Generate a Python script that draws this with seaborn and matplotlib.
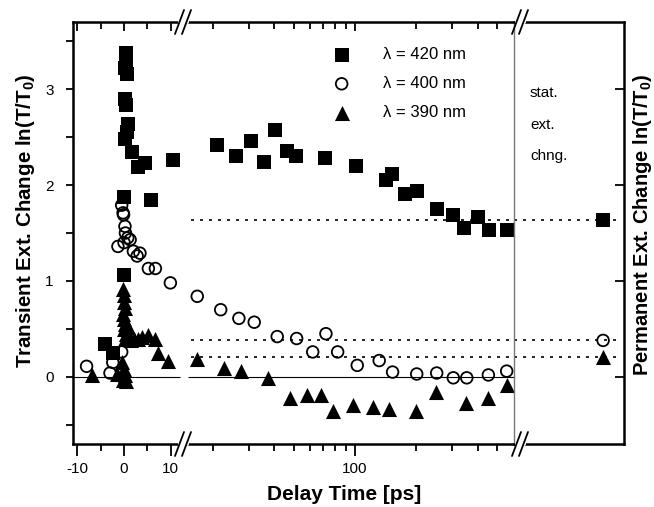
import numpy as np
import pandas as pd
import matplotlib
matplotlib.use("Agg")
import matplotlib.pyplot as plt
import seaborn as sns
from matplotlib.lines import Line2D
from matplotlib.ticker import FixedLocator, NullFormatter, FixedFormatter

# ---------------- data ----------------
# lambda = 420 nm (filled squares)
sq_early_t = [-4.1, -2.4, 0.0, 0.0, 0.4, 0.5, 0.3, 0.6, 0.2, 0.5, 0.8, 0.6, 0.2, 1.6, 3.0, 4.5, 5.8, 10.5]
sq_early_v = [0.34, 0.25, 1.06, 1.88, 3.38, 3.30, 3.22, 3.16, 2.90, 2.83, 2.64, 2.55, 2.48, 2.34, 2.19, 2.23, 1.84, 2.26]
sq_late_t = [20.9, 26, 30.8, 35.8, 40.7, 46.1, 51.1, 71, 101, 142, 152.5, 177, 202, 252, 304, 343, 403, 457, 556]
sq_late_v = [2.42, 2.30, 2.46, 2.24, 2.57, 2.36, 2.30, 2.28, 2.20, 2.05, 2.11, 1.91, 1.94, 1.75, 1.69, 1.55, 1.67, 1.53, 1.53]

# lambda = 400 nm (open circles)
ci_early_t = [-8.0, -3.0, -2.4, -0.5, -0.5, -0.2, -0.1, 0.2, 0.3, 0.8, -1.3, 0.0, 1.3, 2.0, 2.8, 3.4, 5.2, 6.7, 9.9]
ci_early_v = [0.11, 0.04, 0.15, 0.26, 1.79, 1.71, 1.69, 1.57, 1.50, 1.45, 1.36, 1.40, 1.43, 1.31, 1.26, 1.29, 1.13, 1.13, 0.98]
ci_late_t = [16.8, 21.9, 26.9, 32, 41.5, 51.7, 62, 72, 82.2, 102.6, 131.5, 153, 201, 252, 304, 354, 452, 556]
ci_late_v = [0.84, 0.70, 0.61, 0.57, 0.42, 0.40, 0.26, 0.45, 0.26, 0.12, 0.17, 0.05, 0.03, 0.04, -0.01, -0.01, 0.02, 0.06]

# lambda = 390 nm (filled triangles)
tr_early_t = [-6.9, -1.5, -0.5, -0.2, 0.0, 0.3, 0.4, -0.2, -0.1, 0.0, 0.2, -0.3, 0.1, 0.3, 0.0, 0.5, 0.2,
              0.8, 1.0, 1.5, 2.2, 3.0, 3.8, 5.2, 6.7, 7.3, 9.5]
tr_early_v = [0.02, 0.03, 0.15, -0.03, 0.08, 0.02, -0.04, 0.92, 0.85, 0.78, 0.72, 0.66, 0.60, 0.55, 0.50, 0.45, 0.40,
              0.52, 0.42, 0.38, 0.40, 0.40, 0.42, 0.44, 0.40, 0.25, 0.17]
tr_late_t = [16.7, 22.8, 27.5, 37.5, 48, 58, 68, 77.7, 97.4, 123, 147, 199, 249, 351, 452, 556]
tr_late_v = [0.19, 0.09, 0.06, -0.01, -0.22, -0.19, -0.19, -0.36, -0.29, -0.31, -0.34, -0.36, -0.16, -0.27, -0.22, -0.09]

# permanent (stationary) extinction change
perm_labels = ["λ = 420 nm", "λ = 400 nm", "λ = 390 nm"]
perm_v = [1.64, 0.38, 0.21]

lin_ticks = [-10, 0, 10]
lin_minor = [-5, 5]
log_ticks = [100]
log_minor = [20, 30, 40, 50, 60, 70, 80, 90, 200, 300, 400, 500]
y_ticks = [0, 1, 2, 3]
y_minor = [-0.5, 0.5, 1.5, 2.5, 3.5]

# ---------------- style ----------------
sns.set_theme(style="ticks")
plt.rcParams["font.family"] = ["Liberation Sans", "DejaVu Sans"]
plt.rcParams["axes.unicode_minus"] = False
plt.rcParams["mathtext.fontset"] = "custom"
plt.rcParams["mathtext.bf"] = "Liberation Sans:bold"
plt.rcParams["mathtext.rm"] = "Liberation Sans"
for k in ("text.color", "axes.labelcolor", "xtick.color", "ytick.color", "axes.edgecolor"):
    plt.rcParams[k] = "black"

W, H = 654, 507
fig = plt.figure(figsize=(W / 100, H / 100), dpi=100)


def fx(px):
    return px / W


def fy(py):
    return 1 - py / H


X0, XB1, XB2, X3 = 73, 183, 514, 624
YT, YB = 22, 444
ax1 = fig.add_axes([fx(X0), fy(YB), fx(XB1) - fx(X0), fy(YT) - fy(YB)])
ax2 = fig.add_axes([fx(XB1), fy(YB), fx(XB2) - fx(XB1), fy(YT) - fy(YB)])
ax3 = fig.add_axes([fx(XB2), fy(YB), fx(X3) - fx(XB2), fy(YT) - fy(YB)])

YLIM = (-0.70, 3.70)
LIN_LIM = (-10.9, 12.6)
LOG_LIM = (14.3, 604)
for a in (ax1, ax2, ax3):
    a.set_ylim(*YLIM)
    a.set_facecolor("none")
    for s in a.spines.values():
        s.set_linewidth(1.8)
        s.set_color("black")
ax1.set_xlim(*LIN_LIM)
ax2.set_xscale("log")
ax2.set_xlim(*LOG_LIM)
ax3.set_xlim(0, 1)

ax1.spines["right"].set_visible(False)
ax2.spines["left"].set_visible(False)
ax2.spines["right"].set_visible(False)
ax3.spines["left"].set_color("#777777")
ax3.spines["left"].set_linewidth(1.0)

# reference lines
zero_kw = dict(color="black", lw=0.8, zorder=1)
ax1.hlines(0, LIN_LIM[0], 12.0, **zero_kw)
ax2.hlines(0, 15.07, LOG_LIM[1], **zero_kw)
dot_kw = dict(color="black", lw=1.2, linestyle=(0, (1.8, 3.6)), zorder=1)
ax2.hlines(perm_v, 15.7, LOG_LIM[1], **dot_kw)
ax3.hlines(perm_v, 0, 0.98, **dot_kw)

# markers
SQ = dict(marker="s", s=90, color="black", edgecolor="black", linewidth=0, zorder=3, legend=False)
CI = dict(marker="o", s=70, facecolor="none", edgecolor="black", linewidth=1.3, zorder=4, legend=False)
TR = dict(marker="^", s=118, color="black", edgecolor="black", linewidth=0, zorder=3, legend=False)

sns.scatterplot(x=sq_early_t, y=sq_early_v, ax=ax1, **SQ)
sns.scatterplot(x=ci_early_t, y=ci_early_v, ax=ax1, **CI)
sns.scatterplot(x=tr_early_t, y=tr_early_v, ax=ax1, **TR)

sns.scatterplot(x=sq_late_t, y=sq_late_v, ax=ax2, **SQ)
h_sq = ax2.collections[-1]
sns.scatterplot(x=ci_late_t, y=ci_late_v, ax=ax2, **CI)
h_ci = ax2.collections[-1]
sns.scatterplot(x=tr_late_t, y=tr_late_v, ax=ax2, **TR)
h_tr = ax2.collections[-1]

perm_x = [0.81, 0.81, 0.81]
sns.scatterplot(x=perm_x[:1], y=perm_v[:1], ax=ax3, **SQ)
sns.scatterplot(x=perm_x[1:2], y=perm_v[1:2], ax=ax3, **CI)
sns.scatterplot(x=perm_x[2:], y=perm_v[2:], ax=ax3, **TR)
ax1.set_xlim(*LIN_LIM)
ax2.set_xlim(*LOG_LIM)
ax3.set_xlim(0, 1)
for a in (ax1, ax2, ax3):
    a.set_ylim(*YLIM)
    a.set_xlabel("")
    a.set_ylabel("")

# ---------------- ticks ----------------
TICK_FS = 11
ax1.xaxis.set_major_locator(FixedLocator(lin_ticks))
ax1.xaxis.set_minor_locator(FixedLocator(lin_minor))
ax1.xaxis.set_major_formatter(FixedFormatter([str(t) for t in lin_ticks]))
ax1.yaxis.set_major_locator(FixedLocator(y_ticks))
ax1.yaxis.set_minor_locator(FixedLocator(y_minor))
ax1.yaxis.set_major_formatter(FixedFormatter([str(t) for t in y_ticks]))
ax1.tick_params(axis="x", which="major", direction="out", length=8.5, width=1.3, pad=4.5,
                labelsize=TICK_FS, bottom=True, top=False)
ax1.tick_params(axis="x", which="minor", direction="out", length=5, width=1.3, bottom=True, top=False)
ax1.tick_params(axis="y", which="both", direction="out", length=5, width=1.3, pad=9,
                labelsize=TICK_FS, left=True, right=False)

ax2.xaxis.set_major_locator(FixedLocator(log_ticks))
ax2.xaxis.set_minor_locator(FixedLocator(log_minor))
ax2.xaxis.set_major_formatter(FixedFormatter([str(t) for t in log_ticks]))
ax2.xaxis.set_minor_formatter(NullFormatter())
ax2.tick_params(axis="x", which="major", direction="out", length=8.5, width=1.3, pad=4.5,
                labelsize=TICK_FS, bottom=True, top=False)
ax2.tick_params(axis="x", which="minor", direction="out", length=5, width=1.3, bottom=True, top=False)
ax2.tick_params(axis="y", which="both", left=False, right=False, labelleft=False)

ax3.tick_params(axis="x", which="both", bottom=False, top=False, labelbottom=False)
ax3.yaxis.tick_right()
ax3.yaxis.set_major_locator(FixedLocator(y_ticks))
ax3.yaxis.set_minor_locator(FixedLocator([]))
ax3.tick_params(axis="y", which="major", direction="in", length=6.5, width=1.3, right=True, left=False,
                labelright=False, labelleft=False)

# top ticks (inward)
for a, maj, mnr, scale, lim in ((ax1, lin_ticks, lin_minor, "linear", LIN_LIM),
                                (ax2, log_ticks, log_minor, "log", LOG_LIM)):
    t = a.twiny()
    t.set_xscale(scale)
    t.set_xlim(*lim)
    t.xaxis.set_major_locator(FixedLocator(maj))
    t.xaxis.set_minor_locator(FixedLocator(mnr))
    t.xaxis.set_major_formatter(NullFormatter())
    t.xaxis.set_minor_formatter(NullFormatter())
    t.tick_params(axis="x", which="major", direction="in", length=6.5, width=1.3, top=True, bottom=False)
    t.tick_params(axis="x", which="minor", direction="in", length=5, width=1.3, top=True, bottom=False)
    for s in t.spines.values():
        s.set_visible(False)
    t.tick_params(axis="y", left=False, right=False, labelleft=False)

# ---------------- labels ----------------
LAB_FS = 14.8
ax1.set_ylabel(r"Transient Ext. Change ln(T/T$_\mathbf{0}$)", fontsize=LAB_FS, fontweight="bold")
ax1.yaxis.set_label_coords((37 - X0) / (XB1 - X0), 0.53)
ax3.yaxis.set_label_position("right")
ax3.set_ylabel(r"Permanent Ext. Change ln(T/T$_\mathbf{0}$)", fontsize=14.5, fontweight="bold",
               rotation=90)
ax3.yaxis.set_label_coords(1 + (631 - X3) / (X3 - XB2), 0.52)
ax3.yaxis.label.set_va("top")
fig.text(fx(344), fy(495), "Delay Time [ps]", fontsize=15, fontweight="bold", ha="center", va="center")

for txt, yv in (("stat.", 2.96), ("ext.", 2.63), ("chng.", 2.30)):
    ax3.text(0.145, yv, txt, fontsize=11, ha="left", va="center")

fig.legend([h_sq, h_ci, h_tr], perm_labels, loc="upper left", bbox_to_anchor=(fx(325), fy(47)),
           frameon=False, fontsize=12, handletextpad=1.5, labelspacing=0.85, borderpad=0,
           borderaxespad=0, handlelength=2.0, scatterpoints=1)


# ---------------- axis breaks ----------------
def draw_break(cx, cy):
    fig.add_artist(Line2D([fx(cx - 3.5), fx(cx + 3.5)], [fy(cy), fy(cy)], color="white", lw=3,
                          transform=fig.transFigure, zorder=10))
    for dx in (-3.5, 3.5):
        fig.add_artist(Line2D([fx(cx + dx - 4.5), fx(cx + dx + 4.5)], [fy(cy + 12), fy(cy - 12)],
                              color="black", lw=1.3, transform=fig.transFigure, zorder=11))


for cx in (183, 520):
    for cy in (YT, YB):
        draw_break(cx, cy)

fig.savefig("out.png", dpi=100)
